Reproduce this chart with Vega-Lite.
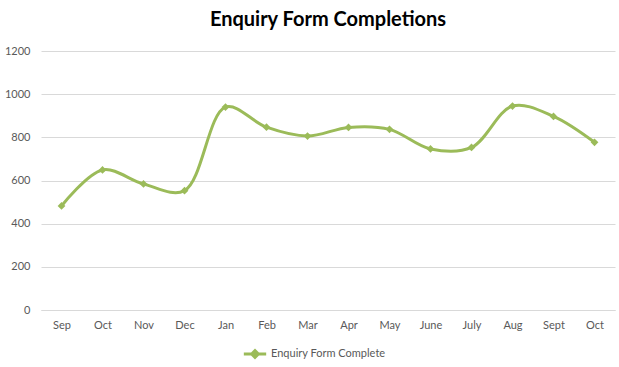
{
  "$schema": "https://vega.github.io/schema/vega-lite/v6.json",
  "width": 574,
  "height": 259,
  "autosize": {"type": "none"},
  "padding": {"left": 41, "top": 51, "right": 4, "bottom": 57},
  "background": "white",
  "title": {
    "text": "Enquiry Form Completions",
    "font": "Lato",
    "fontSize": 20,
    "fontWeight": "bold",
    "color": "#000000",
    "anchor": "middle",
    "offset": 15
  },
  "data": {
    "values": [
      {"m": "Sep_1", "v": 482, "s": "Enquiry Form Complete"},
      {"m": "Oct_1", "v": 649, "s": "Enquiry Form Complete"},
      {"m": "Nov_1", "v": 584, "s": "Enquiry Form Complete"},
      {"m": "Dec_1", "v": 553, "s": "Enquiry Form Complete"},
      {"m": "Jan_1", "v": 940, "s": "Enquiry Form Complete"},
      {"m": "Feb_1", "v": 847, "s": "Enquiry Form Complete"},
      {"m": "Mar_1", "v": 806, "s": "Enquiry Form Complete"},
      {"m": "Apr_1", "v": 846, "s": "Enquiry Form Complete"},
      {"m": "May_1", "v": 837, "s": "Enquiry Form Complete"},
      {"m": "June_1", "v": 746, "s": "Enquiry Form Complete"},
      {"m": "July_1", "v": 753, "s": "Enquiry Form Complete"},
      {"m": "Aug_1", "v": 945, "s": "Enquiry Form Complete"},
      {"m": "Sept_1", "v": 897, "s": "Enquiry Form Complete"},
      {"m": "Oct_2", "v": 777, "s": "Enquiry Form Complete"}
    ]
  },
  "encoding": {
    "x": {
      "field": "m",
      "type": "ordinal",
      "sort": null,
      "scale": {"type": "point", "padding": 0.5},
      "axis": {
        "title": null,
        "labelAngle": 0,
        "labelExpr": "split(datum.value, '_')[0]",
        "labelFont": "Lato",
        "labelFontSize": 11,
        "labelColor": "#595959",
        "labelPadding": 9,
        "domain": true,
        "domainColor": "#d9d9d9",
        "ticks": false,
        "grid": false
      }
    },
    "y": {
      "field": "v",
      "type": "quantitative",
      "scale": {"domain": [0, 1200]},
      "axis": {
        "title": null,
        "format": "d",
        "values": [0, 200, 400, 600, 800, 1000, 1200],
        "labelFont": "Lato",
        "labelFontSize": 11,
        "labelColor": "#595959",
        "labelPadding": 11,
        "domain": false,
        "ticks": false,
        "gridColor": "#d9d9d9",
        "gridWidth": 1
      }
    },
    "color": {
      "field": "s",
      "type": "nominal",
      "scale": {"range": ["#9BBB59"]},
      "legend": {
        "title": null,
        "orient": "none",
        "legendX": 201,
        "legendY": 290,
        "labelFont": "Lato",
        "labelFontSize": 11,
        "labelColor": "#595959",
        "symbolType": "M-1,0L1,0M-0.3,0L0,-0.3L0.3,0L0,0.3Z",
        "symbolSize": 500,
        "symbolStrokeWidth": 3,
        "symbolFillColor": "#9BBB59",
        "symbolStrokeColor": "#9BBB59",
        "labelOffset": 3
      }
    }
  },
  "layer": [
    {
      "mark": {"type": "line", "interpolate": "catmull-rom", "strokeWidth": 3}
    },
    {
      "mark": {"type": "point", "shape": "diamond", "filled": true, "size": 60, "opacity": 1}
    }
  ],
  "config": {"view": {"stroke": null}}
}
